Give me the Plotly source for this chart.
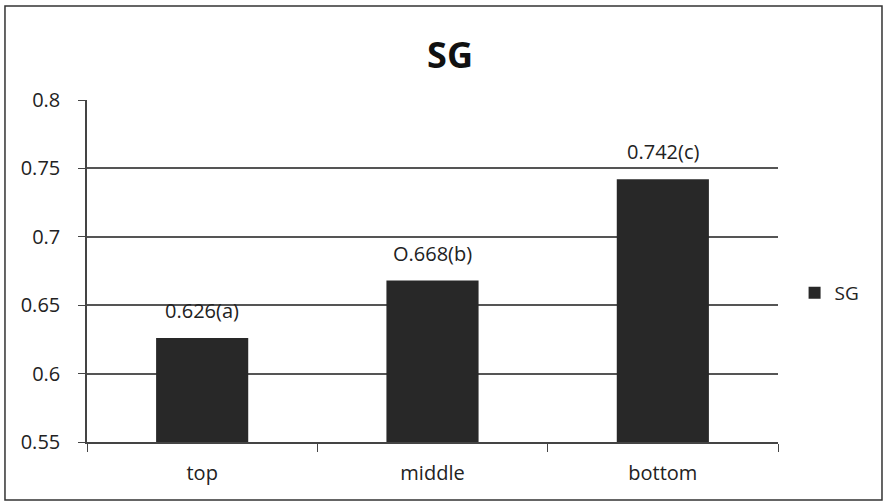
import plotly.graph_objects as go

categories = ["top", "middle", "bottom"]
values = [0.626, 0.668, 0.742]
labels = ["0.626(a)", "O.668(b)", "0.742(c)"]
y_ticks = [0.55, 0.6, 0.65, 0.7, 0.75, 0.8]
y_tick_text = ["0.55", "0.6", "0.65", "0.7", "0.75", "0.8"]
series_name = "SG"

FONT = "Open Sans"
fig = go.Figure()
fig.add_trace(go.Bar(
    x=categories, y=values, name=series_name,
    marker=dict(color="#282828", line=dict(width=0)),
    width=0.4,
))

for c, v, t in zip(categories, values, labels):
    fig.add_annotation(x=c, y=v, text=t, showarrow=False, yanchor="bottom",
                       yshift=12, font=dict(family=FONT, size=20, color="#222"))

fig.add_shape(type="rect", xref="paper", yref="paper",
              x0=-0.1187, x1=1.1505, y0=-0.1696, y1=1.2749,
              line=dict(color="#333", width=1.5), layer="below")

fig.update_layout(
    width=885, height=503,
    margin=dict(l=87, r=107, t=100, b=61),
    paper_bgcolor="white", plot_bgcolor="white",
    title=dict(text="<b>SG</b>", x=(450 - 87) / 691, xref="paper", xanchor="center",
               y=1 - 55 / 503, yanchor="middle", yref="container",
               font=dict(family=FONT, size=36, color="#111")),
    font=dict(family=FONT, size=20, color="#222"),
    showlegend=True,
    legend=dict(x=1.024, y=0.436, xanchor="left", yanchor="middle",
                font=dict(family=FONT, size=19, color="#222"),
                itemwidth=30, bgcolor="rgba(0,0,0,0)"),
    bargap=0.6,
)
fig.update_xaxes(
    showline=True, linecolor="#444", linewidth=1.5,
    ticks="outside", tickson="boundaries", ticklen=8, tickcolor="#444",
    ticklabelstandoff=12,
    showgrid=False, tickfont=dict(family=FONT, size=20, color="#222"),
)
fig.update_yaxes(
    range=[0.55, 0.8], tickvals=y_ticks, ticktext=y_tick_text,
    showline=True, linecolor="#444", linewidth=1.5,
    ticks="outside", ticklen=7, tickcolor="#444",
    ticklabelstandoff=14,
    showgrid=True, gridcolor="#555", gridwidth=1.5,
    zeroline=False, tickfont=dict(family=FONT, size=20, color="#222"),
)

fig.write_html("out.html", config={"displayModeBar": False},
               post_script="document.body.style.margin='0';")
